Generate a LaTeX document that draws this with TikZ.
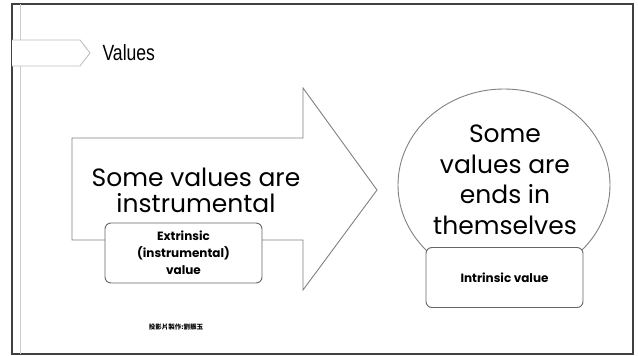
\documentclass[tikz,border=0pt]{standalone}
\usepackage{fontspec}
\setmainfont{Poppins}
\newfontfamily\titlefont[FakeStretch=0.8]{Liberation Sans}
\newfontfamily\cjkfont{Noto Sans CJK TC}
\usetikzlibrary{positioning}

\begin{document}
\begin{tikzpicture}[x=1pt,y=-1pt,
    frame line/.style={draw=black!75,line width=1.6pt},
    shape line/.style={draw=black!50,line width=0.9pt},
    label box/.style={draw=black!60,line width=0.9pt,fill=white,rounded corners=6pt,
      minimum width=157pt,minimum height=60pt,align=center,
      font=\fontsize{12}{17}\selectfont\bfseries},
    big text/.style={align=center,font=\fontsize{25}{26}\selectfont}]

  \useasboundingbox (0,0) rectangle (638,356);

  % slide frame
  \draw[frame line] (12,4) rectangle (633,354);
  \draw[black!20,line width=0.8pt] (20,4) -- (20,354);

  % title tab
  \coordinate (tabtip) at (90,53);
  \draw[black!25,line width=0.9pt,fill=white] (12,40) -- (80,40) -- (tabtip) -- (80,66) -- (12,66);
  \node[font=\titlefont\fontsize{22}{24}\selectfont,right=9pt of tabtip] (title) {Values};

  % left: big arrow
  \draw[shape line,fill=white] (72,138) -- (303,138) -- (303,88) -- (377,190)
    -- (303,290) -- (303,240) -- (72,240) -- cycle;
  \node[big text] (instr) at (196,190) {Some values are\\instrumental};
  \node[label box] (extr) at (183.5,253) {Extrinsic\\(instrumental)\\value};

  % right: ball on a stand
  \draw[shape line] (504,185) ellipse [x radius=106,y radius=96];
  \node[big text,font=\fontsize{25}{30.5}\selectfont] (ends) at (505,180) {Some\\values are\\ends in\\themselves};
  \node[label box] (intr) at (504.5,277.5) {Intrinsic value};

  \node[font=\cjkfont\fontsize{6.5}{7}\selectfont\bfseries] (credit) at (176,327) {投影片製作:劉振玉};
\end{tikzpicture}
\end{document}
